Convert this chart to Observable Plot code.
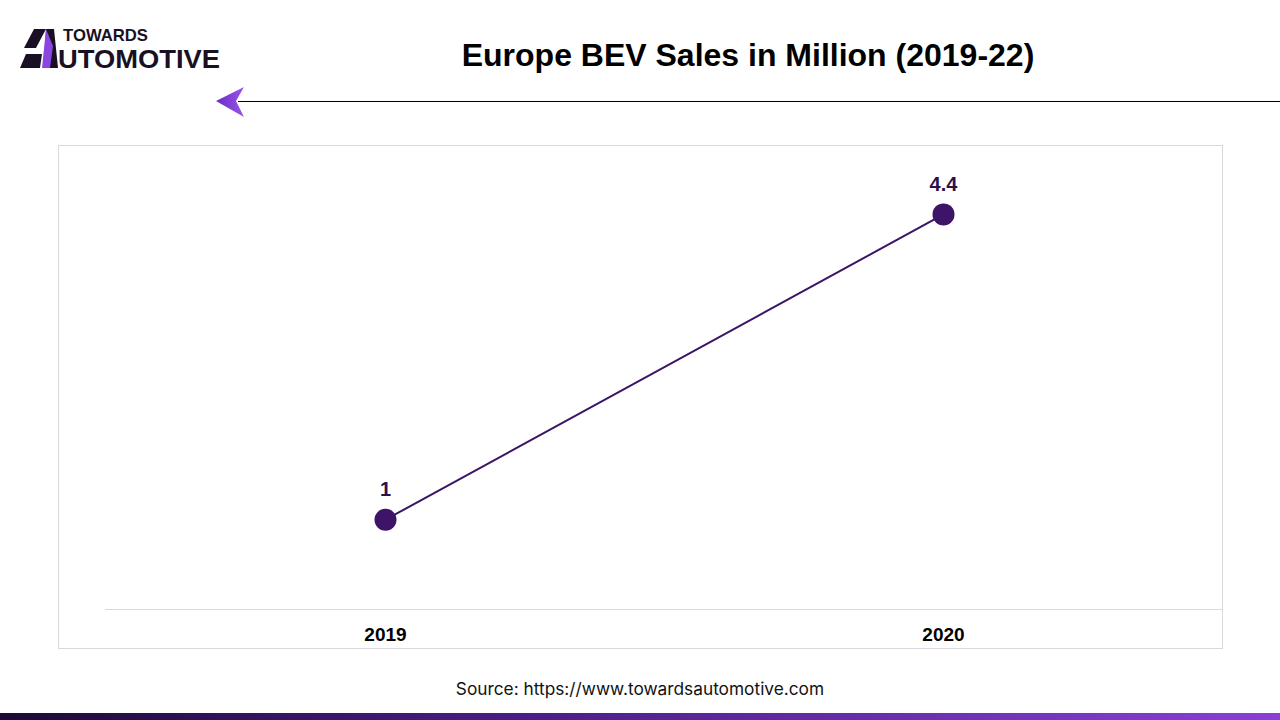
<!DOCTYPE html>
<html>
<head>
<meta charset="utf-8">
<script src="https://cdn.jsdelivr.net/npm/d3@7"></script>
<script src="https://cdn.jsdelivr.net/npm/@observablehq/plot@0.6"></script>
<style>
  html, body { margin: 0; padding: 0; background: #fff; }
  body { width: 1280px; height: 720px; position: relative; overflow: hidden; font-family: "Liberation Sans", Arial, sans-serif; }
  #title { position: absolute; left: 340px; width: 816px; top: 37px; text-align: center; font-size: 32px; font-weight: bold; color: #000; }
  #rule { position: absolute; left: 238px; right: 0; top: 101px; height: 1px; background: #000; }
  #arrow { position: absolute; left: 216px; top: 86px; }
  #logo { position: absolute; left: 20px; top: 25px; }
  #frame { position: absolute; left: 58px; top: 145px; width: 1163px; height: 502px; border: 1px solid #d9d9d9; }
  #chart { position: absolute; left: 58px; top: 145px; }
  #source { position: absolute; left: 0; width: 1280px; top: 678px; text-align: center; font-family: Inter, "Liberation Sans", sans-serif; font-size: 17.3px; color: #111; }
  #bar { position: absolute; left: 0; width: 1280px; top: 713px; height: 7px; background: linear-gradient(to right, #1c0a35, #4a1d85 40%, #8a3fd8); }
</style>
</head>
<body>
<svg id="logo" width="210" height="48" viewBox="0 0 210 48">
  <polygon points="14,4 26,4 16,23 4,23" fill="#1a1024"/>
  <polygon points="26,4 34,4 38,43 24,43" fill="#1a1024"/>
  <polygon points="26,4 33,21 30,43 22,43" fill="#8b46e0"/>
  <polygon points="0,43 6,29 22,29 20,43" fill="#1a1024"/>
  <text x="43" y="16" font-family="Liberation Sans, Arial, sans-serif" font-weight="bold" font-size="17" fill="#1a1024" textLength="85" lengthAdjust="spacingAndGlyphs">TOWARDS</text>
  <text x="38" y="43" font-family="Liberation Sans, Arial, sans-serif" font-weight="bold" font-size="25" fill="#1a1024" textLength="162" lengthAdjust="spacingAndGlyphs">UTOMOTIVE</text>
</svg>
<svg id="arrow" width="30" height="32" viewBox="0 0 30 32">
  <defs><linearGradient id="ag" x1="0" x2="1"><stop offset="0" stop-color="#6a2bc4"/><stop offset="1" stop-color="#9a55ea"/></linearGradient></defs>
  <polygon points="0,15 28,1 20,15 28,31" fill="url(#ag)"/>
</svg>
<div id="title">Europe BEV Sales in Million (2019-22)</div>
<div id="rule"></div>
<div id="frame"></div>
<div id="chart"></div>
<div id="source">Source: https://www.towardsautomotive.com</div>
<div id="bar"></div>
<script>
const years = ["2019", "2020"];
const sales = [1, 4.4];
const labels = ["1", "4.4"];

const data = years.map((y, i) => ({year: y, value: sales[i], label: labels[i]}));

const chart = Plot.plot({
  width: 1164,
  height: 503,
  marginLeft: 47,
  marginRight: 0,
  marginTop: 15,
  marginBottom: 39,
  style: {background: "transparent", fontFamily: "Liberation Sans, Arial, sans-serif", overflow: "visible"},
  x: {type: "band", domain: years, padding: 0, label: null, tickSize: 0, tickPadding: 18},
  y: {domain: [0, 5], axis: null},
  marks: [
    Plot.ruleY([0], {stroke: "#d9d9d9", strokeWidth: 1}),
    Plot.line(data, {x: "year", y: "value", stroke: "#3a1466", strokeWidth: 2}),
    Plot.dot(data, {x: "year", y: "value", r: 11, fill: "#3d1468", stroke: "none"}),
    Plot.text(data, {x: "year", y: "value", text: "label", dy: -30, fill: "#2c0f4c", fontSize: 20, fontWeight: "bold"}),
    Plot.axisX({tickSize: 0, tickPadding: 18, fontSize: 19, fontWeight: "bold", fill: "#000", label: null})
  ]
});
document.getElementById("chart").appendChild(chart);
</script>
</body>
</html>
